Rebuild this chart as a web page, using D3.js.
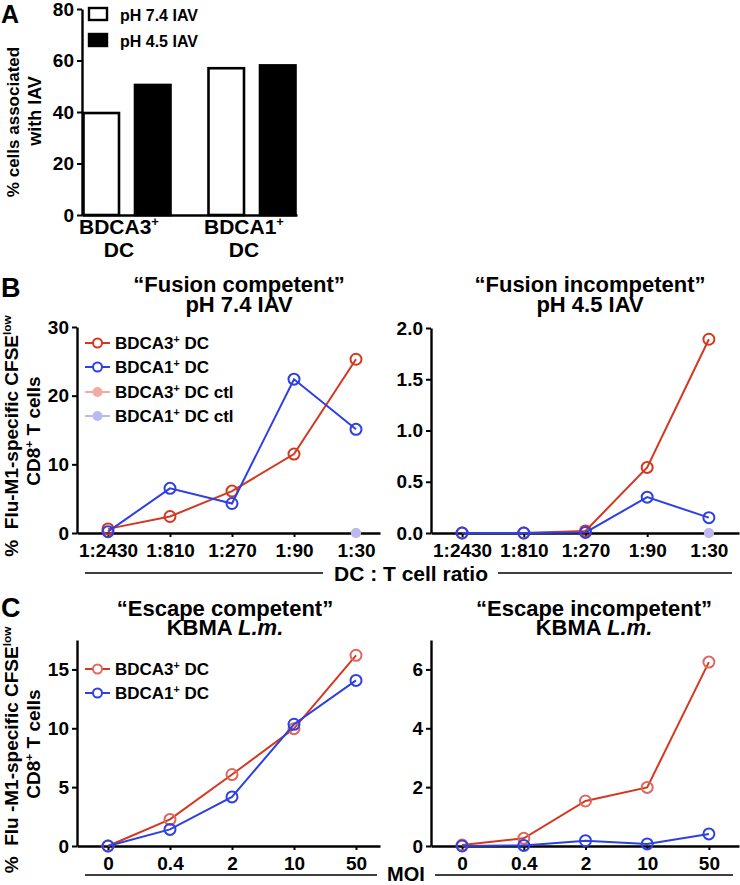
<!DOCTYPE html>
<html><head><meta charset="utf-8">
<script src="https://cdn.jsdelivr.net/npm/d3@7"></script>
<style>
body{margin:0;background:#fff}
svg{display:block;font-family:"Liberation Sans",Arial,Helvetica,sans-serif;font-weight:bold}
text{white-space:pre}
</style>
</head><body>
<svg id="c" width="740" height="885"></svg>
<script>
// ---------- DATA ----------
const groupsA = ["BDCA3", "BDCA1"];
const seriesA = ["pH 7.4 IAV", "pH 4.5 IAV"];
const valuesA74 = [39.6, 57.0];
const valuesA45 = [50.5, 58.1];
const ticksA = [0, 20, 40, 60, 80];

const ratioLabels = ["1:2430", "1:810", "1:270", "1:90", "1:30"];
const fusionCompBDCA3 = [0.6, 2.4, 6.1, 11.5, 25.3];
const fusionCompBDCA1 = [0.2, 6.5, 4.3, 22.4, 15.1];
const fusionCompCtl3 = [null, null, null, null, 0];
const fusionCompCtl1 = [null, null, null, null, 0];
const fusionIncBDCA3 = [0, 0, 0.02, 0.64, 1.89];
const fusionIncBDCA1 = [0, 0, 0.005, 0.35, 0.15];
const fusionIncCtl3 = [null, null, null, null, 0];
const fusionIncCtl1 = [null, null, null, null, 0];
const ticksFusionComp = [0, 10, 20, 30];
const ticksFusionInc = [0, 0.5, 1.0, 1.5, 2.0];

const moiLabels = ["0", "0.4", "2", "10", "50"];
const escCompBDCA3 = [0, 2.26, 6.07, 9.97, 16.2];
const escCompBDCA1 = [0, 1.41, 4.17, 10.34, 14.07];
const escIncBDCA3 = [0.03, 0.26, 1.53, 1.99, 6.25];
const escIncBDCA1 = [0, 0.02, 0.18, 0.07, 0.41];
const ticksEscComp = [0, 5, 10, 15];
const ticksEscInc = [0, 2, 4, 6];

// ---------- STYLE ----------
const RED = "#d4381f", BLUE = "#2e40e0", RED_C = "#e06660";
const PINK = "#f2aba3", LAV = "#babaf3";

const svg = d3.select("#c");

function styleAxis(g, fs) {
  g.select(".domain").attr("stroke", "#000").attr("stroke-width", 2.4);
  g.selectAll(".tick line").attr("stroke", "#000").attr("stroke-width", 2);
  g.selectAll(".tick text").attr("fill", "#000").attr("font-size", fs)
    .attr("font-family", "Liberation Sans, Arial, sans-serif").attr("font-weight", "bold");
  g.attr("font-size", null).attr("font-family", null);
}

function supText(sel, parts, fs) {
  // parts: [text, type]; type "n" normal, "s" superscript, "i" italic
  const shift = fs * 0.36;
  let pending = 0;
  parts.forEach(([t, type]) => {
    const ts = sel.append("tspan").text(t);
    if (type === "s") {
      ts.attr("dy", -shift).attr("font-size", fs * 0.62);
      pending = shift;
    } else {
      if (pending) { ts.attr("dy", pending); pending = 0; }
      if (type === "i") ts.attr("font-style", "italic");
    }
  });
}

function rotLabel(x, cy, parts, fs) {
  const t = svg.append("text").attr("transform", `translate(${x},${cy}) rotate(-90)`)
    .attr("text-anchor", "middle").attr("font-size", fs);
  supText(t, parts, fs);
}

function panelLetter(l, x, y, fs) {
  svg.append("text").attr("x", x).attr("y", y).attr("font-size", fs || 27).text(l);
}

// ---------- PANEL A ----------
const xA = d3.scaleBand().domain(groupsA).range([82, 297]).paddingInner(0.288).paddingOuter(0.004);
const xAin = d3.scaleBand().domain(seriesA).range([0, xA.bandwidth()]).paddingInner(0.272);
const yA = d3.scaleLinear().domain([0, 80]).range([215, 9]);

const barsA = groupsA.flatMap((g, i) => [
  { g, s: seriesA[0], v: valuesA74[i], fill: "#fff" },
  { g, s: seriesA[1], v: valuesA45[i], fill: "#000" }
]);
svg.append("g").selectAll("rect").data(barsA).join("rect")
  .attr("x", d => xA(d.g) + xAin(d.s) + 1)
  .attr("width", xAin.bandwidth() - 2)
  .attr("y", d => yA(d.v))
  .attr("height", d => yA(0) - yA(d.v))
  .attr("fill", d => d.fill).attr("stroke", "#000").attr("stroke-width", 2.6);

const gyA = svg.append("g").attr("transform", "translate(82,0)")
  .call(d3.axisLeft(yA).tickValues(ticksA).tickSize(5).tickSizeOuter(0).tickPadding(3));
styleAxis(gyA, 19);
const gxA = svg.append("g").attr("transform", "translate(0,215)")
  .call(d3.axisBottom(xA).tickSize(0).tickSizeOuter(0).tickFormat(""));
styleAxis(gxA, 19);

groupsA.forEach(g => {
  const cx = xA(g) + xA.bandwidth() / 2 - 8;
  const t1 = svg.append("text").attr("x", cx).attr("y", 234).attr("text-anchor", "middle").attr("font-size", 21);
  supText(t1, [[g, "n"], ["+", "s"]], 21);
  svg.append("text").attr("x", cx).attr("y", 257).attr("text-anchor", "middle").attr("font-size", 21).text("DC");
});

// legend A
const legA = [{ s: seriesA[0], fill: "#fff", y: 7 }, { s: seriesA[1], fill: "#000", y: 33 }];
legA.forEach(d => {
  svg.append("rect").attr("x", 89).attr("y", d.y + 1).attr("width", 18).attr("height", 12)
    .attr("fill", d.fill).attr("stroke", "#000").attr("stroke-width", 2.4);
  svg.append("text").attr("x", 120).attr("y", d.y + 14).attr("font-size", 16).text(d.s);
});

rotLabel(19, 122, [["% cells associated", "n"]], 17);
rotLabel(41, 111, [["with IAV", "n"]], 18);
panelLetter("A", 1, 23, 25);

// ---------- LINE CHART ----------
function lineChart(o) {
  const xs = d3.scalePoint().domain(o.cats).range([o.x0, o.x1]).padding(o.pad).align(o.align);
  const ys = d3.scaleLinear().domain([0, o.ymax]).range([o.yb, o.yt]);
  const gy = svg.append("g").attr("transform", `translate(${o.x0},0)`)
    .call(d3.axisLeft(ys).tickValues(o.ticks).tickFormat(o.fmt).tickSize(5).tickSizeOuter(0).tickPadding(3));
  styleAxis(gy, 19);
  const gx = svg.append("g").attr("transform", `translate(0,${o.yb})`)
    .call(d3.axisBottom(xs).tickSize(4).tickSizeOuter(0).tickPadding(6));
  styleAxis(gx, 19);
  gx.selectAll(".tick text").attr("dy", "0.76em");

  o.series.forEach(s => {
    const pts = s.values.map((v, i) => ({ c: o.cats[i], v })).filter(d => d.v != null);
    if (!s.filled) {
      svg.append("path").datum(pts)
        .attr("d", d3.line().x(d => xs(d.c)).y(d => ys(d.v)))
        .attr("fill", "none").attr("stroke", s.color).attr("stroke-width", 2);
    }
    svg.append("g").selectAll("circle").data(pts).join("circle")
      .attr("cx", d => xs(d.c)).attr("cy", d => ys(d.v))
      .attr("r", s.filled ? 5 : 5.5)
      .attr("fill", s.filled ? s.color : "none")
      .attr("stroke", s.filled ? "none" : (s.mark || s.color)).attr("stroke-width", 2);
  });

  // title
  const t1 = svg.append("text").attr("x", o.tcx).attr("y", o.ty1).attr("text-anchor", "middle").attr("font-size", 22);
  supText(t1, o.title1, 22);
  const t2 = svg.append("text").attr("x", o.tcx).attr("y", o.ty2).attr("text-anchor", "middle").attr("font-size", 22);
  supText(t2, o.title2, 22);

  // legend
  if (o.legend) {
    o.series.forEach((s, i) => {
      const y = o.legend.ys[i];
      svg.append("line").attr("x1", 85).attr("x2", 110).attr("y1", y).attr("y2", y)
        .attr("stroke", s.color).attr("stroke-width", 2);
      svg.append("circle").attr("cx", 97.5).attr("cy", y).attr("r", s.filled ? 5 : 4.5)
        .attr("fill", s.filled ? s.color : "#fff")
        .attr("stroke", s.filled ? "none" : (s.mark || s.color)).attr("stroke-width", 2);
      const t = svg.append("text").attr("x", 115).attr("y", y + 6).attr("font-size", 17);
      supText(t, s.label, 17);
    });
  }
}

const LEFT = { x0: 77, x1: 380, pad: 0.4435, align: 0.5636 };
const RIGHT = { x0: 431, x1: 739, pad: 0.496, align: 0.508 };
const fmt0 = d3.format("d"), fmt1 = d3.format(".1f");

lineChart({ ...LEFT, cats: ratioLabels, yb: 533, yt: 327, ymax: 30, ticks: ticksFusionComp, fmt: fmt0,
  tcx: 239, ty1: 292, ty2: 312,
  title1: [["\u201CFusion competent\u201D", "n"]], title2: [["pH 7.4 IAV", "n"]],
  series: [
    { values: fusionCompBDCA3, color: RED, label: [["BDCA3", "n"], ["+", "s"], [" DC", "n"]] },
    { values: fusionCompBDCA1, color: BLUE, label: [["BDCA1", "n"], ["+", "s"], [" DC", "n"]] },
    { values: fusionCompCtl3, color: PINK, filled: true, label: [["BDCA3", "n"], ["+", "s"], [" DC ctl", "n"]] },
    { values: fusionCompCtl1, color: LAV, filled: true, label: [["BDCA1", "n"], ["+", "s"], [" DC ctl", "n"]] }
  ],
  legend: { ys: [343, 367, 392, 416] } });

lineChart({ ...RIGHT, cats: ratioLabels, yb: 533, yt: 328, ymax: 2, ticks: ticksFusionInc, fmt: fmt1,
  tcx: 590, ty1: 292, ty2: 312,
  title1: [["\u201CFusion incompetent\u201D", "n"]], title2: [["pH 4.5 IAV", "n"]],
  series: [
    { values: fusionIncBDCA3, color: RED },
    { values: fusionIncBDCA1, color: BLUE },
    { values: fusionIncCtl3, color: PINK, filled: true },
    { values: fusionIncCtl1, color: LAV, filled: true }
  ] });

lineChart({ ...LEFT, cats: moiLabels, yb: 846, yt: 640, ymax: 17.5, ticks: ticksEscComp, fmt: fmt0,
  tcx: 225, ty1: 616, ty2: 635,
  title1: [["\u201CEscape competent\u201D", "n"]], title2: [["KBMA ", "n"], ["L.m.", "i"]],
  series: [
    { values: escCompBDCA3, color: RED, mark: RED_C, label: [["BDCA3", "n"], ["+", "s"], [" DC", "n"]] },
    { values: escCompBDCA1, color: BLUE, label: [["BDCA1", "n"], ["+", "s"], [" DC", "n"]] }
  ],
  legend: { ys: [669, 693] } });

lineChart({ ...RIGHT, cats: moiLabels, yb: 846, yt: 640, ymax: 7, ticks: ticksEscInc, fmt: fmt0,
  tcx: 594, ty1: 616, ty2: 635,
  title1: [["\u201CEscape incompetent\u201D", "n"]], title2: [["KBMA ", "n"], ["L.m.", "i"]],
  series: [
    { values: escIncBDCA3, color: RED, mark: RED_C },
    { values: escIncBDCA1, color: BLUE }
  ] });

// shared x-axis titles with rules
function rule(x1, x2, y) {
  svg.append("line").attr("x1", x1).attr("x2", x2).attr("y1", y).attr("y2", y)
    .attr("stroke", "#000").attr("stroke-width", 1.4);
}
rule(85, 323, 573); rule(498, 732, 573);
svg.append("text").attr("x", 411).attr("y", 581).attr("text-anchor", "middle").attr("font-size", 21).text("DC : T cell ratio");
rule(85, 377, 875); rule(435, 733, 875);
svg.append("text").attr("x", 406).attr("y", 881).attr("text-anchor", "middle").attr("font-size", 20).text("MOI");

// y labels B & C
rotLabel(18, 436, [["%  Flu-M1-specific CFSE", "n"], ["low", "s"]], 19);
rotLabel(40, 431, [["CD8", "n"], ["+", "s"], [" T cells", "n"]], 19);
rotLabel(18, 750, [["%  Flu -M1-specific CFSE", "n"], ["low", "s"]], 19);
rotLabel(40, 744, [["CD8", "n"], ["+", "s"], [" T cells", "n"]], 19);

panelLetter("B", 1, 297);
panelLetter("C", 1, 617);
</script>
</body></html>
